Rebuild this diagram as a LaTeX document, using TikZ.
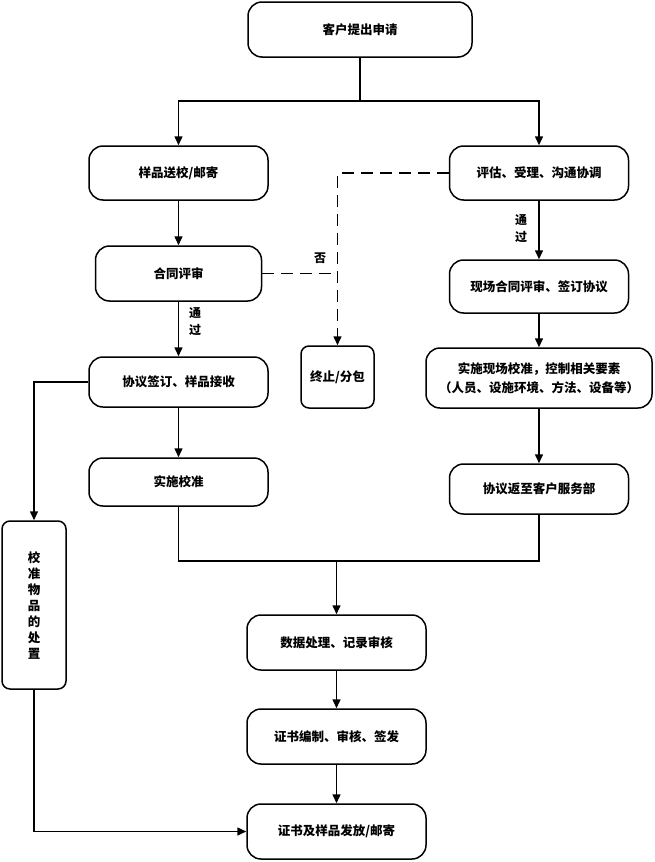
\documentclass[tikz,border=0pt]{standalone}
\usepackage{fontspec}
\newfontfamily\cjk{Noto Sans CJK SC}
\usetikzlibrary{arrows.meta,positioning}
\tikzset{>={Triangle[length=9pt,width=8pt]},
         box/.style={draw, rounded corners=14pt, line width=1.5pt, inner sep=0pt,
                     align=center, minimum width=179pt, minimum height=54pt,
                     font=\cjk\bfseries\fontsize{12.5}{19}\selectfont},
         lbl/.style={align=center, inner sep=0pt,
                     font=\cjk\bfseries\fontsize{12}{17}\selectfont}}

\begin{document}
\begin{tikzpicture}[x=1pt,y=-1pt,line width=1.5pt]
\useasboundingbox (0,0) rectangle (655,862);
% boxes
\node[box, minimum width=224pt, minimum height=55pt] (apply) at (360,29.5) {客户提出申请};
\node[box] (send) at (178.5,173) {样品送校/邮寄};
\node[box] (assess) at (539,173) {评估、受理、沟通协调};
\node[box, minimum width=166pt, minimum height=55pt] (review) at (178.5,273.5) {合同评审};
\node[box, minimum height=53pt] (onsite) at (539,286.5) {现场合同评审、签订协议};
\node[box, minimum width=73pt, minimum height=62pt, rounded corners=8pt] (stop) at (337.5,377) {终止/分包};
\node[box, minimum height=50pt] (sign) at (178.5,382) {协议签订、样品接收};
\node[box, minimum width=226pt, minimum height=60pt] (field) at (539,378) {实施现场校准，控制相关要素\\（人员、设施环境、方法、设备等）};
\node[box, minimum height=48pt] (calib) at (178.5,482) {实施校准};
\node[box, minimum height=50pt] (return) at (539,489) {协议返至客户服务部};
\node[box, minimum width=64pt, minimum height=168pt, rounded corners=8pt,
      font=\cjk\bfseries\fontsize{12.5}{16}\selectfont] (dispose) at (34,605) {校\\准\\物\\品\\的\\处\\置};
\node[box, minimum height=55pt] (data) at (336.5,642.5) {数据处理、记录审核};
\node[box, minimum height=55pt] (cert) at (336.5,736.5) {证书编制、审核、签发};
\node[box, minimum height=55pt] (issue) at (336.5,831.5) {证书及样品发放/邮寄};
% labels
\node[lbl] (pass1) at (195,322) {通\\过};
\node[lbl] (pass2) at (521,229) {通\\过};
\node[lbl] (no) at (320,258) {否};
% connectors
\coordinate (split) at (360,101);
\coordinate (merge) at (336.5,561);
\draw (apply.south) -- (split);
\draw[->] (split) -| (send.north);
\draw[->] (split) -| (assess.north);
\draw[->] (send) -- (review);
\draw[->] (review) -- (sign);
\draw[->] (sign) -- (calib);
\draw[->] (assess) -- (onsite);
\draw[->] (onsite) -- (field);
\draw[->] (field) -- (return);
\draw[dashed, dash pattern=on 12pt off 7pt, ->] (assess.west) -| (stop.north);
\draw[dashed, dash pattern=on 12pt off 7pt] (review.east) -- (review.east -| stop.north);
\draw[->] (sign.west) -| (dispose.north);
\draw[->] (dispose.south) |- (issue.west);
\draw (calib.south) |- (merge) -| (return.south);
\draw[->] (merge) -- (data.north);
\draw[->] (data) -- (cert);
\draw[->] (cert) -- (issue);
\end{tikzpicture}
\end{document}
